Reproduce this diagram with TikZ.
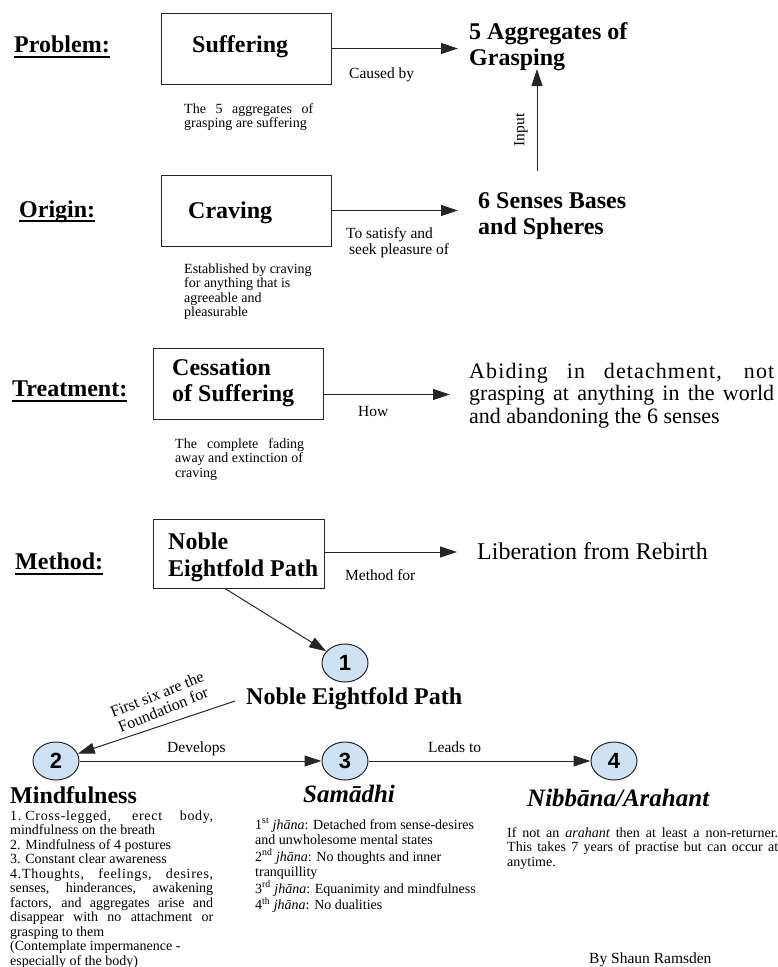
\documentclass[tikz,border=0pt]{standalone}
\usepackage{fontspec}
\setmainfont{Liberation Serif}
\newfontfamily\numfont{Liberation Sans}
\usetikzlibrary{arrows.meta,shapes.geometric,calc}
\definecolor{circblue}{RGB}{207,226,243}
\newcommand\lns[1]{\begin{tabular}[t]{@{}l@{}}#1\end{tabular}}
\newcommand\jl[2]{\makebox[#1][s]{#2}}
\newcommand\jls[2]{\makebox[#1][s]{\addfontfeature{LetterSpace=5}#2}}
\tikzset{
  box/.style={draw=black!85, line width=1pt, minimum width=170pt, minimum height=71pt, inner sep=0},
  arr/.style={-{Triangle[length=17pt,width=11pt]}, line width=1pt, draw=black!85},
  head/.style={font=\fontsize{24}{26}\selectfont\bfseries, inner sep=0, anchor=base west},
  headit/.style={font=\fontsize{25}{26}\selectfont\bfseries\itshape, inner sep=0, anchor=base west},
  big/.style={font=\fontsize{22}{22.5}\selectfont, inner sep=0, anchor=base west},
  lbig/.style={font=\fontsize{24}{26}\selectfont, inner sep=0, anchor=base west},
  lab/.style={font=\fontsize{15.5}{16}\selectfont, inner sep=0, anchor=base west},
  note/.style={font=\fontsize{14}{14.5}\selectfont, inner sep=0, anchor=base west},
  notew/.style={font=\fontsize{14}{15.4}\selectfont, inner sep=0, anchor=base west},
  num/.style={ellipse, draw=black!85, line width=1pt, fill=circblue, minimum width=46pt, minimum height=38pt, inner sep=0, font=\numfont\bfseries\fontsize{22}{22}\selectfont},
  ul/.style={line width=1.4pt}
}
\begin{document}
\begin{tikzpicture}[x=1pt,y=-1pt]
\useasboundingbox (0,0) rectangle (778,967);
% row labels
\node[head] (prob) at (14,52) {Problem:};
\draw[ul] ([yshift=-5pt]prob.base west) -- ([yshift=-5pt]prob.base east);
\node[head] (orig) at (19,217) {Origin:};
\draw[ul] ([yshift=-4pt]orig.base west) -- ([yshift=-4pt]orig.base east);
\node[head] (treat) at (12,396) {Treatment:};
\draw[ul] ([yshift=-5pt]treat.base west) -- ([yshift=-5pt]treat.base east);
\node[head] (meth) at (15,569) {Method:};
\draw[ul] ([yshift=-5pt]meth.base west) -- ([yshift=-5pt]meth.base east);

% boxes
\node[box] (suf) at (246,48.5) {};
\node[box] (crav) at (246,210.5) {};
\node[box] (cess) at (238,383.5) {};
\node[box, minimum width=171pt, minimum height=69pt] (neb) at (238.5,553.5) {};

\node[head] (sufT) at (192,52) {Suffering};
\node[head] (cravT) at (188,218) {Craving};
\node[head] (cessT) at (172,375) {\lns{Cessation\\of Suffering}};
\node[head] (nebT) at (168,549) {\lns{Noble\\[1pt]Eightfold Path}};

% targets
\node[head] (agg) at (469,39) {\lns{5 Aggregates of\\Grasping}};
\node[head] (sen) at (478,208) {\lns{6 Senses Bases\\and Spheres}};
\node[big] (abid) at (469,378) {\lns{\jls{305pt}{Abiding in detachment, not}\\\jl{305pt}{grasping at anything in the world}\\and abandoning the 6 senses}};
\node[lbig] (lib) at (477,559) {Liberation from Rebirth};

% arrows of the upper part
\coordinate (inx) at (537,0);
\draw[arr, shorten >=11pt] (suf.east) -- (suf.east -| agg.west);
\draw[arr, shorten >=20pt] (crav.east) -- (crav.east -| sen.west);
\draw[arr, shorten >=19pt] ([yshift=-11pt]cess.east) -- ([yshift=-11pt]cess.east -| abid.west);
\draw[arr, shorten >=20pt] ([yshift=1.5pt]neb.east) -- ([yshift=1.5pt]neb.east -| lib.west);
\draw[arr, shorten <=19pt, shorten >=-4pt] (sen.north -| inx) -- (agg.south -| inx);

% arrow labels
\node[lab] (cb) at (349,78) {Caused by};
\node[lab, rotate=90, anchor=center] (inp) at (521,130) {Input};
\node[lab] (ts) at (346,238) {\lns{To satisfy and\\\hspace{3pt}seek pleasure of}};
\node[lab] (how) at (358,416) {How};
\node[lab] (mf) at (345,580) {Method for};

% notes
\node[note] (n1) at (184,113) {\lns{\jl{129pt}{The 5 aggregates of}\\grasping are suffering}};
\node[note] (n2) at (184,273) {\lns{Established by craving\\for anything that is\\agreeable and\\pleasurable}};
\node[note] (n3) at (175,448) {\lns{\jl{129pt}{The complete fading}\\away and extinction of\\craving}};

% lower part
\node[num] (c1) at (345,663) {1};
\node[num] (c2) at (56,761) {2};
\node[num] (c3) at (345,761) {3};
\node[num] (c4) at (614,761) {4};
\node[head] (nepl) at (246,704) {Noble Eightfold Path};

\draw[arr] ([xshift=-13.5pt]neb.south) -- (c1);
\draw[arr] ([xshift=-11pt,yshift=3pt]nepl.base west) -- (c2);
\draw[arr] (c2) -- (c3);
\draw[arr] (c3) -- (c4);

\node[font=\fontsize{16}{16.5}\selectfont, inner sep=0, rotate=22, align=center] (fs) at (160,702) {First six are the\\Foundation for};
\node[lab] (dev) at (167,752) {Develops};
\node[lab] (lt) at (428,752) {Leads to};

\node[head] (mindT) at (10,803) {Mindfulness};
\node[headit] (samT) at (303,802) {Samādhi};
\node[headit] (nibT) at (527,806) {Nibbāna/Arahant};

\node[note] (ml) at (10,820) {\lns{\jls{203pt}{1.\hspace{4pt}Cross-legged, erect body,}\\mindfulness on the breath\\2. Mindfulness of 4 postures\\3. Constant clear awareness\\\jls{203pt}{4.Thoughts, feelings, desires,}\\\jl{203pt}{senses, hinderances, awakening}\\\jl{203pt}{factors, and aggregates arise and}\\\jl{203pt}{disappear with no attachment or}\\grasping to them\\(Contemplate impermanence -\\especially of the body)}};

\node[notew] (sl) at (255,829) {\lns{1\textsuperscript{st} \textit{jhāna}: Detached from sense-desires\\and unwholesome mental states\\2\textsuperscript{nd} \textit{jhāna}: No thoughts and inner\\tranquillity\\3\textsuperscript{rd} \textit{jhāna}: Equanimity and mindfulness\\4\textsuperscript{th} \textit{jhāna}: No dualities}};

\node[note] (nl) at (507,837) {\lns{\jl{271pt}{If not an \textit{arahant} then at least a non-returner.}\\\jl{271pt}{This takes 7 years of practise but can occur at}\\anytime.}};

\node[lab] (by) at (589,963) {By Shaun Ramsden};
\end{tikzpicture}
\end{document}
